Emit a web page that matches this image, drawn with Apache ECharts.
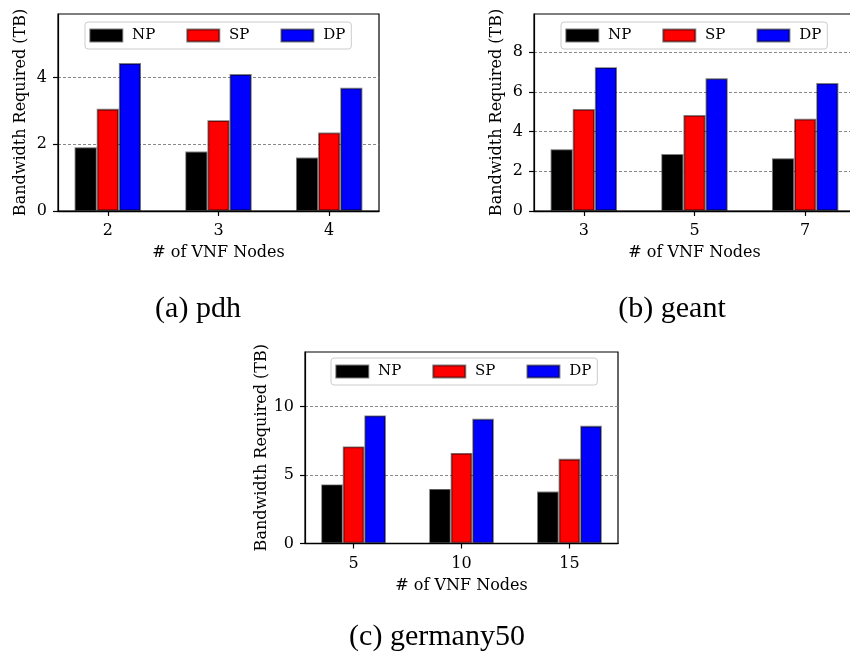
<!DOCTYPE html>
<html>
<head>
<meta charset="utf-8">
<script src="https://cdn.jsdelivr.net/npm/echarts@6/dist/echarts.min.js"></script>
<style>
html,body{margin:0;padding:0;background:#fff;}
#c{width:850px;height:658px;}
</style>
</head>
<body>
<div id="c"></div>
<script>
// ---- data ----
const seriesNames = ['NP', 'SP', 'DP'];

const pdhNodes = ['2', '3', '4'];
const pdhNP = [1.91, 1.78, 1.60];
const pdhSP = [3.06, 2.72, 2.35];
const pdhDP = [4.43, 4.10, 3.69];
const pdhYTicks = [0, 2, 4];
const pdhYMax = 5.9;

const geantNodes = ['3', '5', '7'];
const geantNP = [3.11, 2.87, 2.66];
const geantSP = [5.14, 4.84, 4.65];
const geantDP = [7.25, 6.69, 6.45];
const geantYTicks = [0, 2, 4, 6, 8];
const geantYMax = 9.93;

const germanyNodes = ['5', '10', '15'];
const germanyNP = [4.32, 3.99, 3.80];
const germanySP = [7.10, 6.62, 6.19];
const germanyDP = [9.36, 9.12, 8.60];
const germanyYTicks = [0, 5, 10];
const germanyYMax = 14;

const captions = ['(a) pdh', '(b) geant', '(c) germany50'];
const xAxisTitle = '# of VNF Nodes';
const yAxisTitle = 'Bandwidth Required (TB)';

// ---- layout / style ----
const FONT = '"DejaVu Serif", serif';
const colors = ['#000000', '#ff0000', '#0000ff'];
const panels = [
  {nodes: pdhNodes, values: [pdhNP, pdhSP, pdhDP], yTicks: pdhYTicks, yMax: pdhYMax,
   grid: {left: 58, top: 14, width: 321, height: 197}, legend: {left: 85, top: 22},
   cap: {x: 198, y: 309}},
  {nodes: geantNodes, values: [geantNP, geantSP, geantDP], yTicks: geantYTicks, yMax: geantYMax,
   grid: {left: 534, top: 14, width: 321, height: 197}, legend: {left: 561, top: 22},
   cap: {x: 672, y: 309}},
  {nodes: germanyNodes, values: [germanyNP, germanySP, germanyDP], yTicks: germanyYTicks, yMax: germanyYMax,
   grid: {left: 305, top: 352, width: 313, height: 191.5}, legend: {left: 331, top: 358},
   cap: {x: 437, y: 637}}
];

const option = {
  animation: false,
  backgroundColor: '#fff',
  grid: [], xAxis: [], yAxis: [], legend: [], series: [], graphic: []
};

panels.forEach((p, pi) => {
  option.grid.push(Object.assign({
    show: true, borderColor: '#000', borderWidth: 1.2, backgroundColor: 'transparent',
    containLabel: false, outerBoundsMode: 'none'
  }, p.grid));
  const catIdx = p.nodes.map((_, i) => i);
  option.xAxis.push({
    type: 'value', gridIndex: pi, min: -0.45, max: p.nodes.length - 1 + 0.45,
    splitLine: {show: false},
    axisLine: {show: true, onZero: false, lineStyle: {color: '#000', width: 1.3}},
    axisTick: {show: true, customValues: catIdx, length: 5, lineStyle: {color: '#000', width: 1.2}},
    axisLabel: {customValues: catIdx, formatter: v => p.nodes[Math.round(v)] || '',
      margin: 12, fontFamily: FONT, fontSize: 16, color: '#000'},
    name: xAxisTitle, nameLocation: 'middle', nameGap: 34,
    nameTextStyle: {fontFamily: FONT, fontSize: 16, color: '#000'}
  });
  option.yAxis.push({
    type: 'value', gridIndex: pi, min: 0, max: p.yMax,
    splitLine: {show: true, lineStyle: {type: [3, 2], color: '#888', width: 1}},
    axisLine: {show: true, onZero: false, lineStyle: {color: '#000', width: 1.2}},
    axisTick: {show: true, customValues: p.yTicks, length: 5, lineStyle: {color: '#000', width: 1.2}},
    axisLabel: {customValues: p.yTicks, margin: 11, fontFamily: FONT, fontSize: 16, color: '#000'},
    name: yAxisTitle, nameLocation: 'middle', nameGap: 29, nameRotate: 90,
    nameTextStyle: {fontFamily: FONT, fontSize: 16, color: '#000'}
  });
  option.legend.push({
    left: p.legend.left, top: p.legend.top, orient: 'horizontal',
    data: seriesNames, icon: 'rect', itemWidth: 32, itemHeight: 12, itemGap: 31,
    padding: [6, 6, 6, 4.3], borderColor: '#ccc', borderWidth: 1, borderRadius: 3,
    backgroundColor: 'rgba(255,255,255,0.8)', formatter: ' {name}', selectedMode: false,
    textStyle: {fontFamily: FONT, fontSize: 15, color: '#000'}
  });
  seriesNames.forEach((nm, si) => {
    option.series.push({
      type: 'bar', name: nm, xAxisIndex: pi, yAxisIndex: pi,
      data: p.values[si].map((v, i) => [i, v]),
      barWidth: '20%', barGap: '0%',
      itemStyle: {color: colors[si], borderColor: 'rgba(0,0,0,0.5)', borderWidth: 1.8}
    });
  });
  option.graphic.push({
    type: 'text', x: p.cap.x, y: p.cap.y,
    style: {text: captions[pi], fontFamily: '"Liberation Serif", serif', fontSize: 30, fill: '#000',
      align: 'center', verticalAlign: 'middle', textAlign: 'center', textVerticalAlign: 'middle'}
  });
});

const chart = echarts.init(document.getElementById('c'));
chart.setOption(option);
</script>
</body>
</html>
